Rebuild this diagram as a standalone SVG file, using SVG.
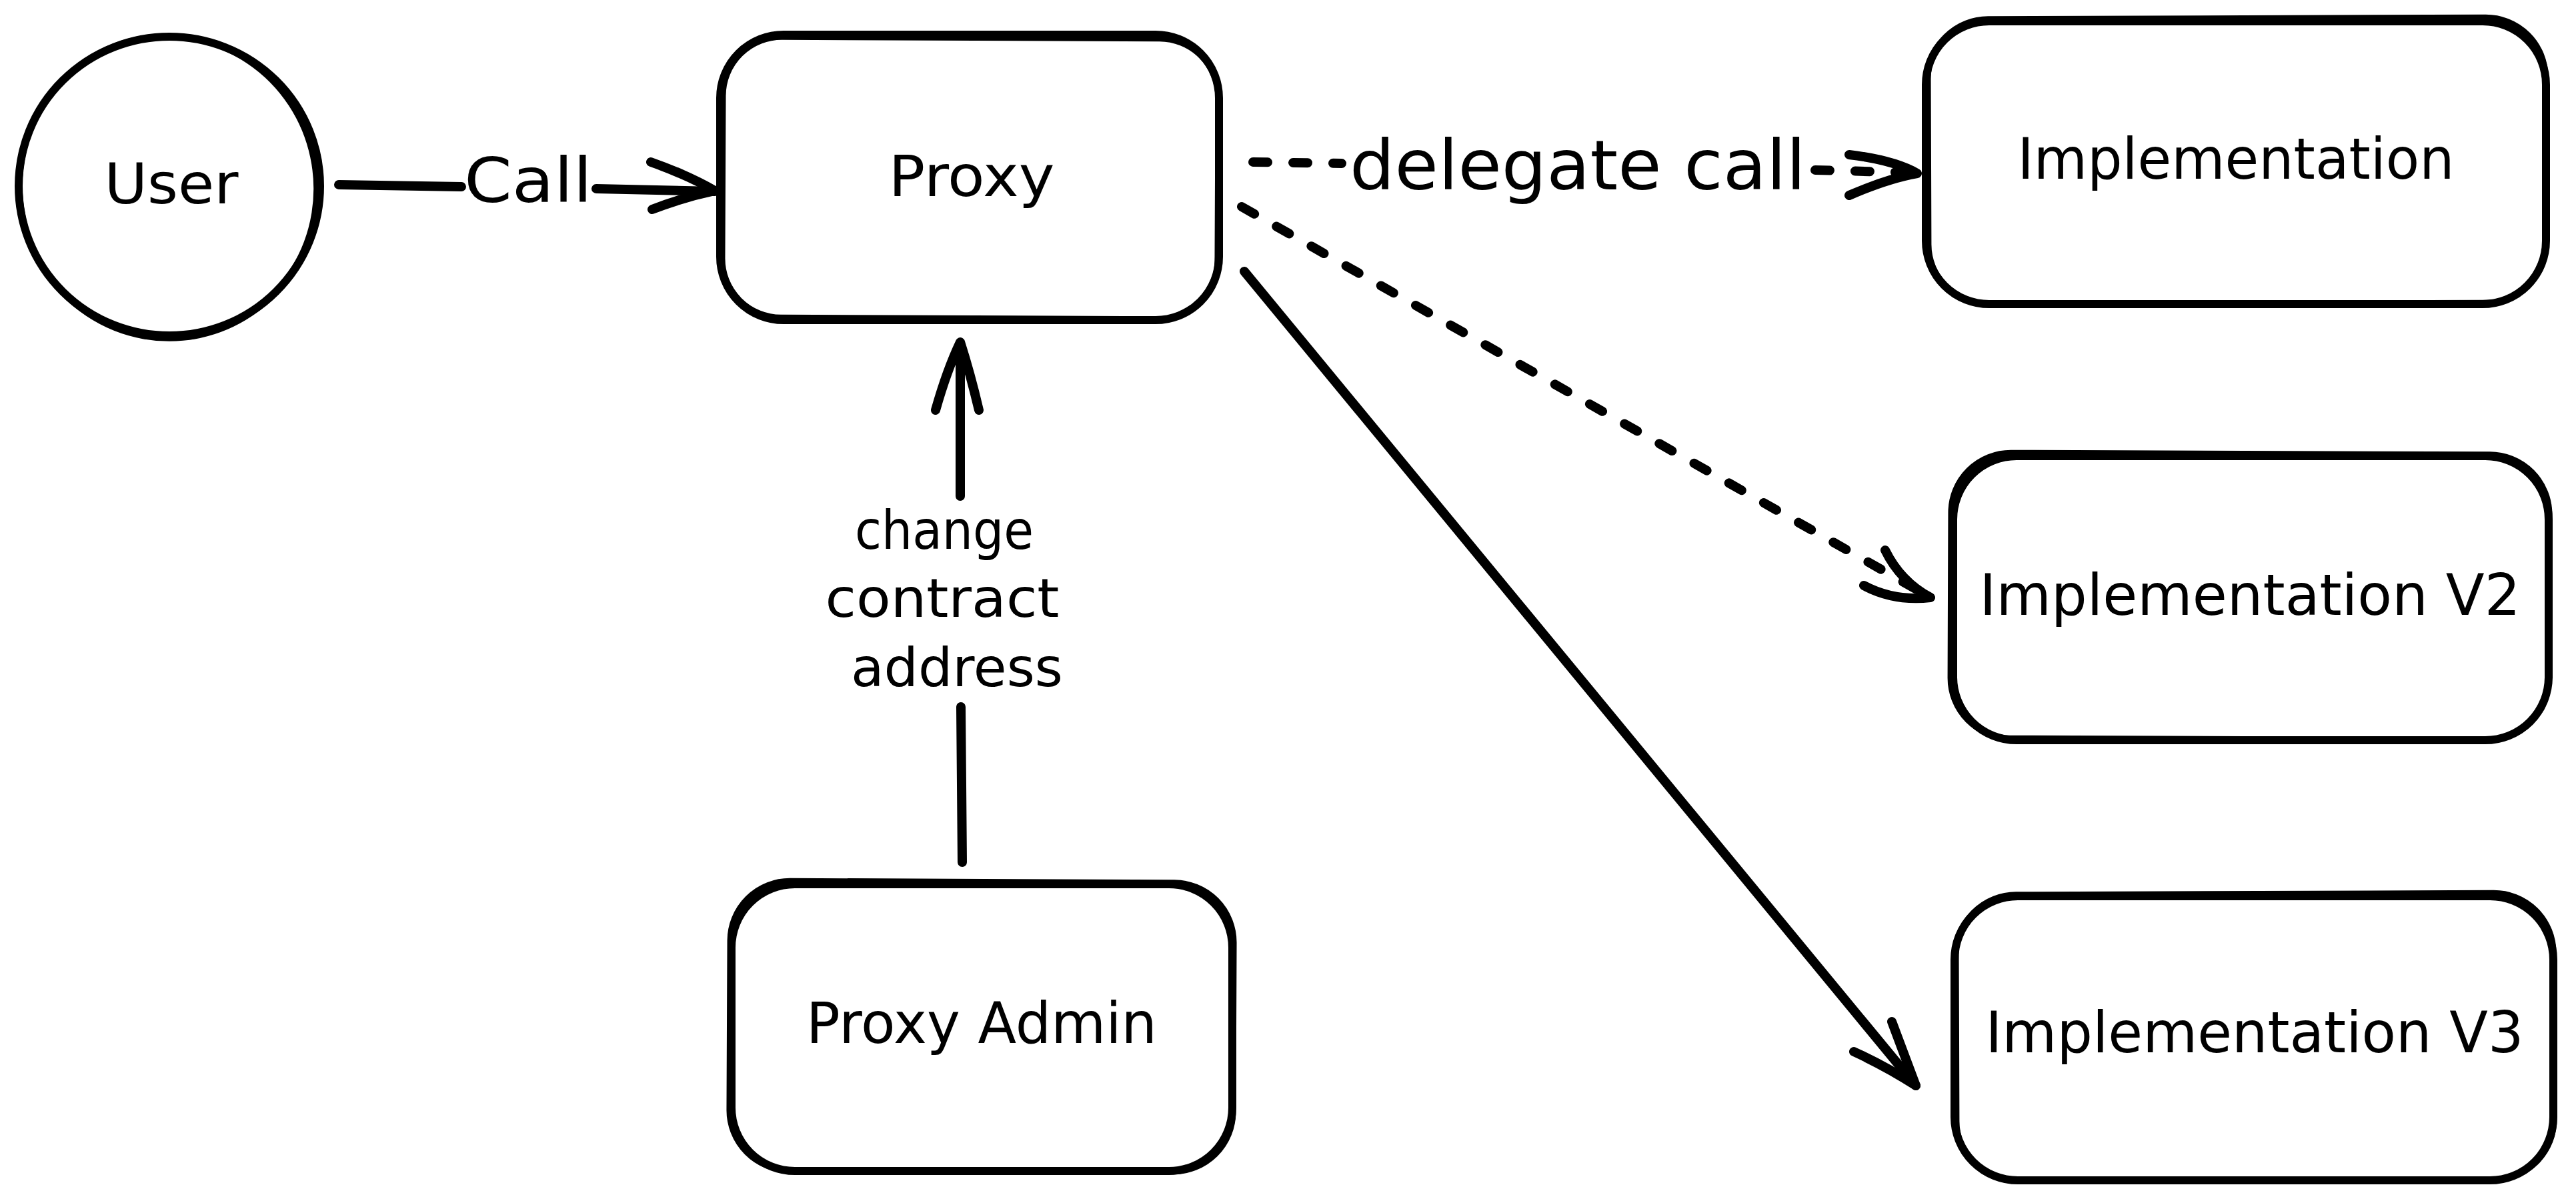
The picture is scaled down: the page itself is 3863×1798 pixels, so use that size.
<svg xmlns="http://www.w3.org/2000/svg" width="3863" height="1798" viewBox="0 0 3863 1798">
<style>
.bg{fill:#ffffff}
.s1{fill:none;stroke:#000;stroke-width:12;stroke-linecap:round;stroke-linejoin:round}
.s2{fill:none;stroke:#000;stroke-width:8;stroke-linecap:round;stroke-linejoin:round}
.conn{fill:none;stroke:#000;stroke-width:14;stroke-linecap:round;stroke-linejoin:round}
.dash{stroke-dasharray:22 38}
.lbl{font-family:"DejaVu Sans","Liberation Sans",sans-serif;fill:#000;text-anchor:middle}
</style>
<rect class="bg" x="0" y="0" width="3863" height="1798"/>

<g id="user">
  <ellipse class="s1" cx="254" cy="279" rx="226" ry="224"/>
  <ellipse class="s2" cx="252" cy="281" rx="222" ry="227" transform="rotate(-12 252 281)"/>
  <text class="lbl" x="257" y="305" font-size="84" textLength="201" lengthAdjust="spacingAndGlyphs">User</text>
</g>

<g id="proxy">
  <rect class="s1" x="1080" y="52" width="748" height="428" rx="95"/>
  <rect class="s2" x="1084" y="57" width="742" height="420" rx="88" transform="rotate(0.25 1455 267)"/>
  <text class="lbl" x="1457" y="294" font-size="86" textLength="249" lengthAdjust="spacingAndGlyphs">Proxy</text>
</g>

<g id="implementation">
  <rect class="s1" x="2888" y="32" width="930" height="424" rx="95"/>
  <rect class="s2" x="2892" y="27" width="926" height="428" rx="90" transform="rotate(-0.2 3353 244)"/>
  <text class="lbl" x="3353" y="268" font-size="86" textLength="655" lengthAdjust="spacingAndGlyphs">Implementation</text>
</g>

<g id="implementation-v2">
  <rect class="s1" x="2929" y="684" width="893" height="426" rx="95"/>
  <rect class="s2" x="2925" y="680" width="898" height="428" rx="90" transform="rotate(0.2 3375 897)"/>
  <text class="lbl" x="3374" y="922" font-size="86" textLength="811" lengthAdjust="spacingAndGlyphs">Implementation V2</text>
</g>

<g id="implementation-v3">
  <rect class="s1" x="2931" y="1344" width="898" height="426" rx="95"/>
  <rect class="s2" x="2934" y="1340" width="896" height="430" rx="90" transform="rotate(-0.2 3380 1557)"/>
  <text class="lbl" x="3381" y="1578" font-size="86" textLength="807" lengthAdjust="spacingAndGlyphs">Implementation V3</text>
</g>

<g id="proxy-admin">
  <rect class="s1" x="1097" y="1326" width="751" height="430" rx="95"/>
  <rect class="s2" x="1094" y="1322" width="756" height="434" rx="90" transform="rotate(0.25 1472 1540)"/>
  <text class="lbl" x="1472" y="1564" font-size="86" textLength="526" lengthAdjust="spacingAndGlyphs">Proxy Admin</text>
</g>

<g id="connectors">
  <!-- User -> Proxy : Call -->
  <path class="conn" d="M508,277 L692,280 M894,283 L1072,287"/>
  <path class="conn" d="M976,243 Q1030,262 1072,286 Q1025,296 978,314"/>
  <text class="lbl" x="792" y="303" font-size="92" textLength="192" lengthAdjust="spacingAndGlyphs">Call</text>

  <!-- Proxy -> Implementation : delegate call (dashed) -->
  <path class="conn dash" d="M1879,243 L2012,245"/>
  <path class="conn dash" d="M2722,255 L2872,259"/>
  <path class="conn" d="M2773,232 Q2840,240 2875,260 Q2830,268 2773,293"/>
  <text class="lbl" x="2366" y="284" font-size="104" textLength="684" lengthAdjust="spacingAndGlyphs">delegate call</text>

  <!-- Proxy -> Implementation V2 (dashed) -->
  <path class="conn dash" d="M1862,310 L2890,893"/>
  <path class="conn" d="M2827,825 Q2850,872 2895,896 Q2840,902 2795,878"/>

  <!-- Proxy -> Implementation V3 (solid) -->
  <path class="conn" d="M1866,407 L2873,1628"/>
  <path class="conn" d="M2780,1577 Q2830,1600 2873,1628 Q2855,1580 2837,1532"/>

  <!-- Proxy Admin -> Proxy : change contract address -->
  <path class="conn" d="M1443,1293 L1441,1060 M1440,744 L1440,516"/>
  <path class="conn" d="M1403,615 Q1420,555 1440,513 Q1455,560 1468,615"/>
  <text class="lbl" x="1416" y="823" font-size="80" textLength="268" lengthAdjust="spacingAndGlyphs">change</text>
  <text class="lbl" x="1413" y="925" font-size="80" textLength="351" lengthAdjust="spacingAndGlyphs">contract</text>
  <text class="lbl" x="1435" y="1029" font-size="80" textLength="318" lengthAdjust="spacingAndGlyphs">address</text>
</g>
</svg>
